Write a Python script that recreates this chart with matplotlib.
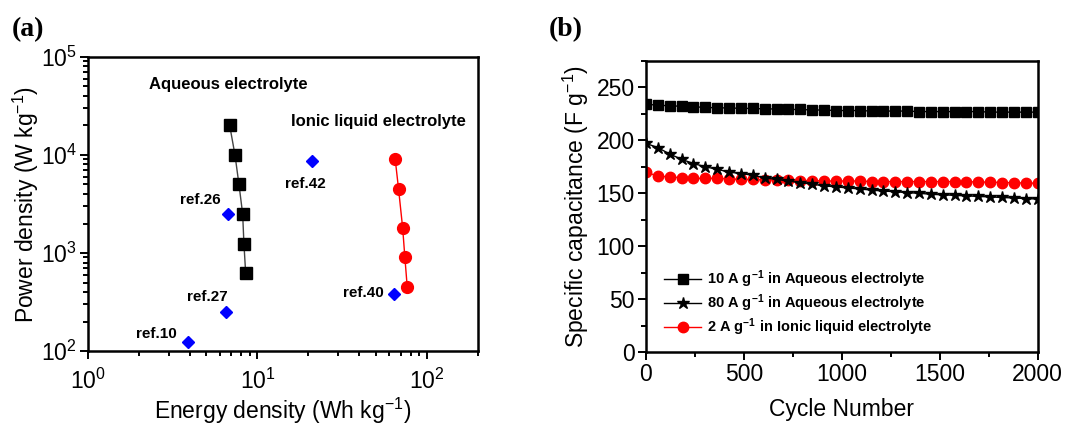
import numpy as np
import matplotlib
matplotlib.use("Agg")
import matplotlib.pyplot as plt
from matplotlib.ticker import LogLocator, MultipleLocator, NullFormatter

plt.rcParams['font.family'] = ['Liberation Sans', 'DejaVu Sans']
plt.rcParams['mathtext.fontset'] = 'custom'
plt.rcParams['mathtext.rm'] = 'Liberation Sans'
plt.rcParams['mathtext.it'] = 'Liberation Sans:italic'
plt.rcParams['mathtext.bf'] = 'Liberation Sans:bold'

# panel (a): Ragone plot
aq_energy = [6.86, 7.37, 7.78, 8.18, 8.32, 8.52]
aq_power = [20000, 10000, 5000, 2500, 1250, 625]
il_energy = [65.0, 68.0, 71.9, 74.1, 76.5]
il_power = [9000, 4500, 1800, 900, 450]
ref_names = ['ref.42', 'ref.26', 'ref.27', 'ref.10', 'ref.40']
ref_energy = [21.0, 6.67, 6.52, 3.87, 63.9]
ref_power = [8600, 2500, 250, 124, 382]
# label anchor (data coords) for each reference
ref_label_x = [19.1, 4.58, 5.04, 2.52, 41.9]
ref_label_y = [5060, 3470, 356, 149, 391]

# panel (b): cycling stability
cycles = [0, 61, 121, 182, 242, 303, 364, 424, 485, 545, 606, 667, 727, 788,
          848, 909, 970, 1030, 1091, 1152, 1212, 1273, 1333, 1394, 1455, 1515,
          1576, 1636, 1697, 1758, 1818, 1879, 1939, 2000]
cap_aq10 = [234, 233, 232.5, 232, 231.5, 231, 230.5, 230.5, 230, 230, 229.5,
            229.5, 229, 229, 228.5, 228.5, 228, 228, 228, 227.5, 227.5, 227.5,
            227.5, 227, 227, 227, 227, 227, 227, 226.5, 226.5, 226.5, 226.5, 226.5]
cap_aq80 = [197, 193, 187, 182, 178, 175, 172.5, 170, 168.5, 167, 164.5, 163,
            161.5, 160, 158.5, 157, 156, 155, 154, 153, 152, 151.5, 150.5, 150,
            149, 148.5, 148, 147.5, 147, 146.5, 146, 145.5, 145, 144.5]
cap_il2 = [170, 166, 165.5, 164.5, 164, 164, 164, 163.5, 163, 163, 162.5, 162.5,
           162.5, 162, 162, 161.5, 161.5, 161.5, 161.5, 161, 161, 161, 161, 161,
           161, 161, 161, 161, 160.5, 160.5, 160, 160, 159.5, 159.5]

fig = plt.figure(figsize=(10.7, 4.25), dpi=100)
ax1 = fig.add_axes([0.0822, 0.1741, 0.3645, 0.6918])
ax2 = fig.add_axes([0.6037, 0.1711, 0.3661, 0.6861])

for ax in (ax1, ax2):
    for sp in ax.spines.values():
        sp.set_linewidth(1.8)
    ax.tick_params(which='both', direction='out', top=False, right=False,
                   labelsize=16.5, width=1.4, pad=2)
    ax.tick_params(which='major', length=6)
    ax.tick_params(which='minor', length=3.5)

# ---- (a)
ax1.plot(aq_energy, aq_power, '-', color='#444444', lw=1,
         marker='s', ms=8.5, mfc='black', mec='black', zorder=3)
ax1.plot(il_energy, il_power, '-', color='red', lw=1,
         marker='o', ms=8.5, mfc='red', mec='red', zorder=3)
ax1.plot(ref_energy, ref_power, 'D', color='blue', ms=6, ls='none', zorder=3)
ax1.set_xscale('log')
ax1.set_yscale('log')
ax1.set_xlim(1, 200)
ax1.set_ylim(100, 100000)
ax1.xaxis.set_major_locator(LogLocator(base=10, numticks=5))
ax1.xaxis.set_minor_locator(LogLocator(base=10, subs=np.arange(2, 10), numticks=10))
ax1.xaxis.set_minor_formatter(NullFormatter())
ax1.yaxis.set_minor_formatter(NullFormatter())
ax1.tick_params(axis='x', which='major', pad=7)
ax1.set_xlabel('Energy density (Wh kg$^{-1}$)', fontsize=16.5, labelpad=1)
ax1.set_ylabel('Power density (W kg$^{-1}$)', fontsize=16.5, labelpad=0)

for name, lx, ly in zip(ref_names, ref_label_x, ref_label_y):
    ax1.text(lx, ly, name, fontsize=11, fontweight='bold', ha='center', va='center')
ax1.text(6.7, 53000, 'Aqueous electrolyte', fontsize=12, fontweight='bold',
         ha='center', va='center')
ax1.text(52, 22200, 'Ionic liquid electrolyte', fontsize=12, fontweight='bold',
         ha='center', va='center')

# ---- (b)
ax2.plot(cycles, cap_aq10, '-', color='black', lw=1, marker='s', ms=7,
         label=r'10 A g$^{\mathbf{-1}}$ in Aqueous electrolyte', zorder=3)
ax2.plot(cycles, cap_aq80, '-', color='black', lw=1, marker='*', ms=9,
         label=r'80 A g$^{\mathbf{-1}}$ in Aqueous electrolyte', zorder=3)
ax2.plot(cycles, cap_il2, '-', color='red', lw=1, marker='o', ms=7.5,
         label=r'2 A g$^{\mathbf{-1}}$ in Ionic liquid electrolyte', zorder=2)
ax2.set_xlim(0, 2000)
ax2.set_ylim(0, 275)
ax2.xaxis.set_major_locator(MultipleLocator(500))
ax2.xaxis.set_minor_locator(MultipleLocator(250))
ax2.yaxis.set_major_locator(MultipleLocator(50))
ax2.yaxis.set_minor_locator(MultipleLocator(25))
ax2.set_xlabel('Cycle Number', fontsize=16.5, labelpad=8)
ax2.set_ylabel('Specific capacitance (F g$^{-1}$)', fontsize=16.5, labelpad=4)
leg = ax2.legend(loc='lower left', bbox_to_anchor=(0.03, 0.03), frameon=False,
                 prop={'size': 10.5, 'weight': 'bold'}, handlelength=2.6,
                 handletextpad=0.4, labelspacing=0.15, borderaxespad=0)

fig.text(0.026, 0.93, '(a)', fontsize=20, fontweight='bold', family='Liberation Serif',
         ha='center', va='center')
fig.text(0.529, 0.93, '(b)', fontsize=20, fontweight='bold', family='Liberation Serif',
         ha='center', va='center')

fig.savefig('out.png', dpi=100)
